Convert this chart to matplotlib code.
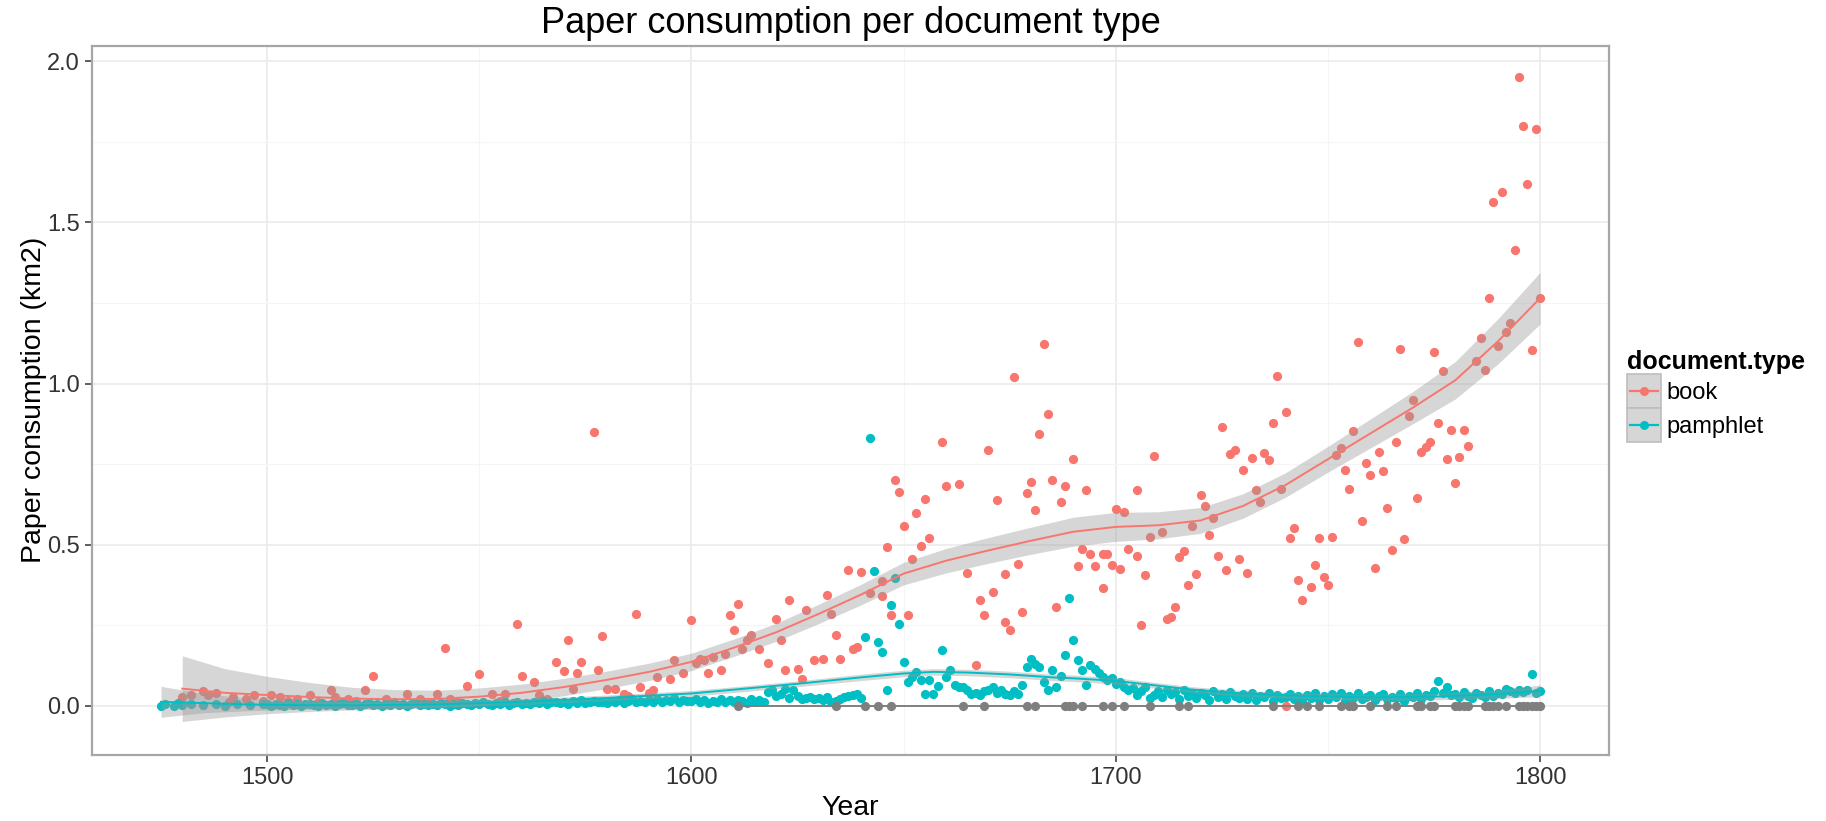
import matplotlib
matplotlib.use("Agg")
import matplotlib.pyplot as plt
from matplotlib.patches import Rectangle
from matplotlib.lines import Line2D

plt.rcParams['font.family'] = ['Liberation Sans', 'DejaVu Sans']

# yearly paper consumption (km2) for books
book_years = [
    1480, 1482, 1485, 1486, 1488, 1491, 1492, 1495, 1497, 1499,
    1501, 1503, 1505, 1507, 1510, 1512, 1515, 1516, 1518, 1519,
    1521, 1523, 1525, 1528, 1530, 1533, 1536, 1538, 1540, 1542,
    1543, 1545, 1547, 1550, 1553, 1555, 1556, 1559, 1560, 1563,
    1564, 1566, 1568, 1570, 1571, 1572, 1573, 1574, 1577, 1578,
    1579, 1580, 1582, 1584, 1585, 1587, 1588, 1590, 1591, 1592,
    1595, 1596, 1598, 1600, 1601, 1602, 1603, 1604, 1605, 1607,
    1608, 1609, 1610, 1611, 1612, 1613, 1614, 1616, 1618, 1620,
    1621, 1622, 1623, 1625, 1626, 1627, 1629, 1631, 1632, 1633,
    1634, 1635, 1637, 1638, 1639, 1640, 1642, 1645, 1645, 1646,
    1647, 1648, 1649, 1650, 1651, 1652, 1653, 1654, 1655, 1656,
    1659, 1660, 1663, 1665, 1667, 1668, 1669, 1670, 1671, 1672,
    1674, 1674, 1675, 1676, 1677, 1678, 1679, 1680, 1681, 1682,
    1683, 1684, 1685, 1686, 1687, 1688, 1690, 1691, 1692, 1693,
    1694, 1695, 1697, 1697, 1698, 1699, 1700, 1701, 1702, 1703,
    1705, 1705, 1706, 1707, 1708, 1709, 1711, 1712, 1713, 1714,
    1715, 1716, 1717, 1718, 1719, 1720, 1721, 1722, 1723, 1724,
    1725, 1726, 1727, 1728, 1729, 1730, 1731, 1732, 1733, 1734,
    1735, 1736, 1737, 1738, 1739, 1740, 1740, 1741, 1742, 1743,
    1744, 1746, 1747, 1748, 1749, 1750, 1751, 1752, 1753, 1754,
    1755, 1756, 1757, 1758, 1759, 1760, 1761, 1762, 1763, 1764,
    1765, 1766, 1767, 1768, 1769, 1770, 1771, 1772, 1773, 1774,
    1775, 1776, 1777, 1778, 1779, 1780, 1781, 1782, 1783, 1785,
    1786, 1787, 1788, 1789, 1790, 1791, 1792, 1793, 1794, 1795,
    1796, 1797, 1798, 1799, 1800,
]
book_values = [
    0.027, 0.032, 0.045, 0.032, 0.040, 0.011, 0.027, 0.020, 0.032, 0.015,
    0.032, 0.027, 0.015, 0.021, 0.032, 0.010, 0.048, 0.027, 0.012, 0.021,
    0.015, 0.048, 0.091, 0.021, 0.010, 0.037, 0.021, 0.010, 0.037, 0.179,
    0.021, 0.010, 0.060, 0.097, 0.037, 0.015, 0.037, 0.255, 0.091, 0.074,
    0.032, 0.020, 0.136, 0.108, 0.205, 0.053, 0.100, 0.136, 0.850, 0.110,
    0.216, 0.053, 0.053, 0.037, 0.030, 0.286, 0.058, 0.040, 0.048, 0.089,
    0.084, 0.141, 0.100, 0.265, 0.131, 0.146, 0.141, 0.100, 0.152, 0.110,
    0.162, 0.281, 0.234, 0.317, 0.177, 0.203, 0.219, 0.177, 0.131, 0.270,
    0.203, 0.110, 0.327, 0.115, 0.084, 0.296, 0.141, 0.146, 0.343, 0.286,
    0.219, 0.146, 0.420, 0.177, 0.182, 0.415, 0.350, 0.340, 0.386, 0.493,
    0.281, 0.702, 0.664, 0.557, 0.281, 0.454, 0.597, 0.495, 0.641, 0.519,
    0.819, 0.682, 0.687, 0.411, 0.125, 0.327, 0.281, 0.793, 0.353, 0.640,
    0.410, 0.260, 0.234, 1.019, 0.441, 0.291, 0.659, 0.695, 0.607, 0.843,
    1.122, 0.905, 0.700, 0.307, 0.633, 0.682, 0.767, 0.433, 0.485, 0.671,
    0.470, 0.433, 0.470, 0.364, 0.470, 0.436, 0.609, 0.423, 0.602, 0.485,
    0.669, 0.464, 0.250, 0.405, 0.524, 0.776, 0.540, 0.270, 0.275, 0.307,
    0.462, 0.480, 0.374, 0.558, 0.410, 0.655, 0.619, 0.529, 0.583, 0.465,
    0.864, 0.420, 0.781, 0.793, 0.454, 0.731, 0.413, 0.770, 0.669, 0.633,
    0.783, 0.762, 0.876, 1.024, 0.674, 0.912, 0.000, 0.521, 0.553, 0.389,
    0.327, 0.369, 0.436, 0.521, 0.398, 0.374, 0.524, 0.778, 0.801, 0.731,
    0.672, 0.854, 1.130, 0.574, 0.752, 0.716, 0.426, 0.788, 0.729, 0.614,
    0.483, 0.819, 1.106, 0.516, 0.899, 0.950, 0.646, 0.788, 0.804, 0.819,
    1.099, 0.876, 1.040, 0.767, 0.855, 0.690, 0.772, 0.855, 0.806, 1.070,
    1.142, 1.042, 1.266, 1.562, 1.117, 1.595, 1.160, 1.187, 1.414, 1.950,
    1.800, 1.620, 1.104, 1.790, 1.265,
]

# pamphlets: sparse before 1500, then one value per year
pamphlet_years = [1475, 1476, 1478, 1479, 1480, 1482, 1485, 1488, 1490, 1493, 1496, 1499] + list(range(1500, 1801))
pamphlet_values = [
    0.000, 0.005, 0.000, 0.008, 0.002, 0.006, 0.003, 0.004, 0.000, 0.006, 0.002, 0.004,
    0.004, 0.000, 0.006, 0.003, 0.000, 0.008, 0.002, 0.005, 0.000, 0.004,  # 1500s
    0.006, 0.002, 0.000, 0.007, 0.003, 0.005, 0.000, 0.004, 0.008, 0.002,  # 1510s
    0.003, 0.006, 0.000, 0.005, 0.009, 0.002, 0.004, 0.000, 0.006, 0.003,  # 1520s
    0.007, 0.002, 0.005, 0.000, 0.004, 0.008, 0.003, 0.006, 0.001, 0.005,  # 1530s
    0.003, 0.008, 0.004, 0.000, 0.006, 0.002, 0.009, 0.005, 0.003, 0.007,  # 1540s
    0.004, 0.010, 0.006, 0.002, 0.008, 0.005, 0.011, 0.003, 0.007, 0.012,  # 1550s
    0.006, 0.009, 0.004, 0.012, 0.007, 0.015, 0.005, 0.010, 0.013, 0.008,  # 1560s
    0.011, 0.006, 0.014, 0.009, 0.017, 0.007, 0.012, 0.016, 0.010, 0.013,  # 1570s
    0.008, 0.015, 0.011, 0.018, 0.009, 0.014, 0.020, 0.012, 0.016, 0.010,  # 1580s
    0.017, 0.013, 0.021, 0.011, 0.018, 0.015, 0.023, 0.012, 0.019, 0.016,  # 1590s
    0.014, 0.020, 0.011, 0.018, 0.009, 0.016, 0.013, 0.021, 0.010, 0.017,  # 1600s
    0.012, 0.019, 0.015, 0.008, 0.022, 0.013, 0.018, 0.011, 0.043, 0.048,  # 1610s
    0.030, 0.037, 0.053, 0.025, 0.048, 0.030, 0.021, 0.025, 0.028, 0.020,  # 1620s
    0.024, 0.018, 0.026, 0.011, 0.015, 0.020, 0.027, 0.031, 0.032, 0.037,  # 1630s
    0.025, 0.213, 0.831, 0.418, 0.198, 0.167, 0.050, 0.312, 0.396, 0.255,  # 1640s
    0.136, 0.074, 0.089, 0.105, 0.079, 0.037, 0.079, 0.037, 0.060, 0.172,  # 1650s
    0.090, 0.110, 0.063, 0.058, 0.058, 0.048, 0.037, 0.040, 0.032, 0.045,  # 1660s
    0.048, 0.058, 0.040, 0.048, 0.035, 0.032, 0.045, 0.037, 0.063, 0.120,  # 1670s
    0.146, 0.130, 0.120, 0.074, 0.048, 0.110, 0.058, 0.092, 0.157, 0.333,  # 1680s
    0.203, 0.141, 0.110, 0.063, 0.125, 0.115, 0.100, 0.089, 0.079, 0.085,  # 1690s
    0.068, 0.072, 0.058, 0.048, 0.055, 0.032, 0.045, 0.058, 0.025, 0.032,  # 1700s
    0.045, 0.028, 0.050, 0.035, 0.042, 0.022, 0.048, 0.030, 0.038, 0.025,  # 1710s
    0.040, 0.032, 0.018, 0.045, 0.028, 0.036, 0.020, 0.042, 0.030, 0.025,  # 1720s
    0.035, 0.022, 0.040, 0.018, 0.030, 0.026, 0.038, 0.015, 0.032, 0.024,  # 1730s
    0.028, 0.036, 0.020, 0.030, 0.015, 0.034, 0.025, 0.040, 0.018, 0.030,  # 1740s
    0.022, 0.035, 0.028, 0.040, 0.016, 0.030, 0.024, 0.038, 0.020, 0.027,  # 1750s
    0.032, 0.018, 0.030, 0.036, 0.020, 0.028, 0.024, 0.035, 0.015, 0.030,  # 1760s
    0.026, 0.038, 0.022, 0.034, 0.030, 0.045, 0.076, 0.040, 0.058, 0.032,  # 1770s
    0.036, 0.028, 0.042, 0.030, 0.025, 0.038, 0.034, 0.028, 0.045, 0.030,  # 1780s
    0.040, 0.035, 0.052, 0.045, 0.038, 0.050, 0.042, 0.048, 0.097, 0.040,  # 1790s
    0.045,
]

# records without a document type, all at zero
other_years = [
    1611, 1634, 1641, 1644, 1647, 1664, 1669, 1679, 1681, 1688,
    1689, 1690, 1692, 1697, 1699, 1702, 1708, 1715, 1717, 1737,
    1743, 1745, 1748, 1753, 1755, 1756, 1760, 1764, 1766, 1771,
    1772, 1774, 1775, 1780, 1781, 1782, 1783, 1787, 1788, 1789,
    1790, 1792, 1795, 1796, 1797, 1798, 1799, 1800,
]
other_values = [0.0] * len(other_years)

# loess fits with confidence half-width
book_fit_years = [1480, 1490, 1500, 1510, 1520, 1530, 1540, 1550, 1560, 1570, 1580,
                  1590, 1600, 1610, 1620, 1630, 1640, 1650, 1660, 1670, 1680, 1690,
                  1700, 1710, 1720, 1730, 1740, 1750, 1760, 1770, 1780, 1790, 1800]
book_fit = [0.053, 0.040, 0.033, 0.027, 0.022, 0.020, 0.021, 0.028, 0.040, 0.058, 0.080,
            0.105, 0.136, 0.180, 0.228, 0.285, 0.345, 0.410, 0.450, 0.482, 0.512, 0.540,
            0.555, 0.560, 0.575, 0.620, 0.685, 0.765, 0.845, 0.925, 1.010, 1.130, 1.265]
book_se = [0.102, 0.075, 0.058, 0.045, 0.035, 0.030, 0.027, 0.027, 0.027, 0.027, 0.027,
           0.027, 0.027, 0.027, 0.028, 0.030, 0.032, 0.035, 0.038, 0.040, 0.042, 0.045,
           0.045, 0.042, 0.040, 0.038, 0.038, 0.040, 0.045, 0.050, 0.058, 0.070, 0.080]

pamphlet_fit_years = [1475, 1485, 1495, 1505, 1520, 1540, 1560, 1580, 1600, 1616, 1625,
                      1640, 1650, 1657, 1665, 1675, 1685, 1690, 1700, 1710, 1718, 1730,
                      1745, 1760, 1775, 1790, 1800]
pamphlet_fit = [0.012, 0.008, 0.004, 0.002, 0.001, 0.004, 0.012, 0.024, 0.038, 0.057, 0.068,
                0.088, 0.100, 0.105, 0.103, 0.097, 0.088, 0.085, 0.077, 0.062, 0.050, 0.038,
                0.030, 0.026, 0.028, 0.036, 0.046]
pamphlet_se = [0.048, 0.030, 0.020, 0.014, 0.010, 0.009, 0.009, 0.009, 0.009, 0.009, 0.009,
               0.010, 0.010, 0.010, 0.010, 0.010, 0.010, 0.010, 0.010, 0.009, 0.009, 0.009,
               0.009, 0.009, 0.010, 0.013, 0.018]

other_fit_years = [1611, 1800]
other_fit = [0.0, 0.0]

book_col = '#F8766D'
pamphlet_col = '#00BFC4'
other_col = '#7F7F7F'


class SmoothKey:
    """Legend key: grey se box with the coloured line and a point on top."""
    def legend_artist(self, legend, orig_handle, fontsize, handlebox):
        x0, y0 = -handlebox.xdescent, -handlebox.ydescent
        w, h = handlebox.width, handlebox.height
        tr = handlebox.get_transform()
        box = Rectangle((x0, y0), w, h, facecolor='#D6D6D6', edgecolor='#BDBDBD',
                        lw=1.2, transform=tr)
        col = orig_handle.get_color()
        line = Line2D([x0 + 0.1 * w, x0 + 0.9 * w], [y0 + h / 2] * 2, color=col,
                      lw=1.6, transform=tr)
        dot = Line2D([x0 + w / 2], [y0 + h / 2], marker='o', markersize=6.5, color=col,
                     markeredgewidth=0, transform=tr)
        for a in (box, line, dot):
            handlebox.add_artist(a)
        return box


fig = plt.figure(figsize=(18.26, 8.21), dpi=100)
ax = fig.add_axes([0.0504, 0.0808, 0.8308, 0.8637])

ax.scatter(book_years, book_values, s=44, color=book_col, lw=0, zorder=2)
ax.scatter(pamphlet_years, pamphlet_values, s=44, color=pamphlet_col, lw=0, zorder=2)
ax.scatter(other_years, other_values, s=44, color=other_col, lw=0, zorder=2)

for yrs, fit, se, col in [(book_fit_years, book_fit, book_se, book_col),
                          (pamphlet_fit_years, pamphlet_fit, pamphlet_se, pamphlet_col)]:
    lo = [f - s for f, s in zip(fit, se)]
    hi = [f + s for f, s in zip(fit, se)]
    ax.fill_between(yrs, lo, hi, color='#999999', alpha=0.4, lw=0, zorder=3)
    ax.plot(yrs, fit, color=col, lw=1.4, zorder=4)
ax.plot(other_fit_years, other_fit, color=other_col, lw=1.4, zorder=4)

ax.set_xlim(1458.75, 1816.25)
ax.set_ylim(-0.152, 2.049)
ax.set_xticks([1500, 1600, 1700, 1800])
ax.set_xticks([1550, 1650, 1750], minor=True)
ax.set_yticks([0, 0.5, 1.0, 1.5, 2.0])
ax.set_yticklabels(['0.0', '0.5', '1.0', '1.5', '2.0'])
ax.set_yticks([0.25, 0.75, 1.25, 1.75], minor=True)
ax.grid(which='major', color='#EBEBEB', lw=1.2)
ax.grid(which='minor', color='#F5F5F5', lw=0.8)
ax.set_axisbelow(True)
ax.tick_params(which='major', labelsize=17, length=5, width=1.1, color='#333333',
               labelcolor='#333333', pad=4)
ax.tick_params(which='minor', length=0)
for sp in ax.spines.values():
    sp.set_color('#A6A6A6')
    sp.set_linewidth(1.6)

ax.set_title('Paper consumption per document type', fontsize=26, pad=9)
ax.set_xlabel('Year', fontsize=20.5, labelpad=4)
ax.set_ylabel('Paper consumption (km2)', fontsize=20.5, labelpad=0)

handles = [Line2D([], [], color=book_col), Line2D([], [], color=pamphlet_col)]
leg = ax.legend(handles, ['book', 'pamphlet'], handler_map={Line2D: SmoothKey()},
                loc='upper left', bbox_to_anchor=(1627 / 1826, 1 - 350 / 821),
                bbox_transform=fig.transFigure, frameon=False,
                title='document.type', fontsize=17,
                title_fontproperties={'weight': 'bold', 'size': 18},
                handlelength=1.44, handleheight=1.84, handletextpad=0.25,
                labelspacing=0.0, borderpad=0, borderaxespad=0)
leg._legend_box.align = 'left'

fig.savefig('out.png', dpi=100)
